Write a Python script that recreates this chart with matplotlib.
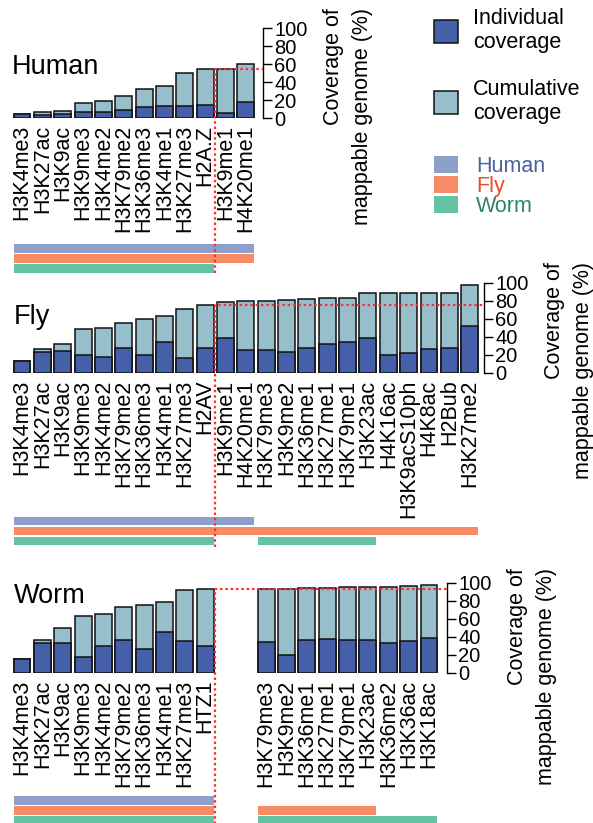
import matplotlib
matplotlib.use("Agg")
import matplotlib.pyplot as plt
from matplotlib.patches import Patch

plt.rcParams['font.family'] = ['Liberation Sans', 'DejaVu Sans']

# ── Coverage of mappable genome (%) per histone mark ──────────────────────
human_marks = ["H3K4me3", "H3K27ac", "H3K9ac", "H3K9me3", "H3K4me2", "H3K79me2",
               "H3K36me3", "H3K4me1", "H3K27me3", "H2A.Z", "H3K9me1", "H4K20me1"]
human_individual = [4.5, 3.7, 4.2, 7.0, 7.0, 8.5, 12.0, 13.0, 13.3, 14.4, 5.9, 18.1]
human_cumulative = [4.5, 6.3, 7.4, 16.5, 19.0, 24.0, 32.0, 36.0, 49.7, 54.5, 55.0, 59.6]

fly_marks = ["H3K4me3", "H3K27ac", "H3K9ac", "H3K9me3", "H3K4me2", "H3K79me2",
             "H3K36me3", "H3K4me1", "H3K27me3", "H2AV", "H3K9me1", "H4K20me1",
             "H3K79me3", "H3K9me2", "H3K36me1", "H3K27me1", "H3K79me1", "H3K23ac",
             "H4K16ac", "H3K9acS10ph", "H4K8ac", "H2Bub", "H3K27me2"]
fly_individual = [13.0, 23.0, 24.4, 19.5, 17.7, 27.4, 19.5, 34.6, 16.2, 27.4, 38.7, 25.6,
                  25.6, 22.6, 27.8, 32.0, 34.2, 38.3, 19.5, 21.8, 26.7, 27.4, 51.9]
fly_cumulative = [13.0, 26.0, 31.6, 49.0, 50.0, 55.6, 60.0, 62.8, 70.3, 75.4, 79.0, 80.0,
                  80.0, 81.0, 81.6, 82.7, 82.7, 88.3, 88.7, 88.7, 88.7, 89.0, 97.0]

worm_marks = ["H3K4me3", "H3K27ac", "H3K9ac", "H3K9me3", "H3K4me2", "H3K79me2",
              "H3K36me3", "H3K4me1", "H3K27me3", "HTZ1",
              "H3K79me3", "H3K9me2", "H3K36me1", "H3K27me1", "H3K79me1", "H3K23ac",
              "H3K36me2", "H3K36ac", "H3K18ac"]
worm_individual = [15.0, 32.8, 32.8, 17.2, 30.2, 36.6, 26.0, 45.5, 35.0, 29.5,
                   33.6, 19.4, 36.6, 38.0, 35.8, 35.8, 32.8, 34.7, 38.4]
worm_cumulative = [15.0, 36.0, 50.0, 63.4, 65.7, 73.5, 75.7, 78.7, 91.4, 92.8,
                   93.3, 93.3, 94.0, 94.0, 94.8, 95.1, 95.1, 96.3, 97.0]

species = ["Human", "Fly", "Worm"]
# the H2A.Z variant has a different name in each organism
h2a_variant = {"Human": "H2A.Z", "Fly": "H2AV", "Worm": "HTZ1"}

# ── Styling / layout (pixels on a 593x823 canvas) ─────────────────────────
W, H = 593, 823
SLOT = 20.35          # px between neighbouring bars
X0 = 22.0             # px centre of the first bar
BAR_W = 0.835         # bar width in slot units
PX_PER_PCT = 0.9
DARK, LIGHT, EDGE = "#4560A9", "#97BFCB", "#111111"
STRIP = {"Human": "#8DA0CB", "Fly": "#F78B66", "Worm": "#66C2A5"}
TEXT_COL = {"Human": "#4A63A0", "Fly": "#E84A2E", "Worm": "#2F8468"}
RED = "#FF2D2D"
WORM_RIGHT_START = 12   # worm has no H3K9me1 / H4K20me1, leave two empty slots

fig = plt.figure(figsize=(W / 100, H / 100), dpi=100)


def px2x(px):
    return (px - X0) / SLOT


def canon(mark):
    return "H2A.Z" if mark in h2a_variant.values() else mark


profiled = {"Human": {canon(m) for m in human_marks},
            "Fly": {canon(m) for m in fly_marks},
            "Worm": {canon(m) for m in worm_marks}}


def strip_runs(marks, slots, available):
    """Contiguous slot runs where the mark is profiled in a given species."""
    runs = []
    for m, s in zip(marks, slots):
        if canon(m) not in available:
            continue
        if runs and runs[-1][1] == s - 1:
            runs[-1][1] = s
        else:
            runs.append([s, s])
    return [(a - BAR_W / 2, b - a + BAR_W) for a, b in runs]


def draw_panel(name, marks, ind, cum, slots, zero_px, axis_px, strip_px, vline_px, title_px):
    ax = fig.add_axes([0, (H - zero_px) / H, 1, 100 * PX_PER_PCT / H])
    ax.set_xlim(px2x(0), px2x(W))
    ax.set_ylim(0, 100)
    ax.patch.set_visible(False)

    ax.bar(slots, cum, width=BAR_W, color=LIGHT, edgecolor=EDGE, linewidth=1.1, zorder=2)
    ax.bar(slots, ind, width=BAR_W, color=DARK, edgecolor=EDGE, linewidth=1.1, zorder=3)

    # marks profiled in each species, as coloured strips under the labels
    strip_h = 8.5 / PX_PER_PCT
    for i, sp in enumerate(species):
        top = -(strip_px - zero_px + i * 10) / PX_PER_PCT
        ax.broken_barh(strip_runs(marks, slots, profiled[sp]), (top - strip_h, strip_h),
                       facecolors=STRIP[sp], clip_on=False, zorder=1)

    # dotted guide from the H2A variant cumulative level
    vi = marks.index(h2a_variant[name])
    ref = cum[vi]
    xv = slots[vi] + 0.5
    y_bot = -(vline_px - zero_px) / PX_PER_PCT
    ax.plot([xv, xv, px2x(axis_px)], [y_bot, ref, ref], color=RED, lw=1.6,
            ls=(0, (1.1, 1.3)), clip_on=False, zorder=5)

    for s in ["top", "bottom", "left"]:
        ax.spines[s].set_visible(False)
    ax.spines["right"].set_position(("data", px2x(axis_px)))
    ax.spines["right"].set_bounds(0, 100)
    ax.spines["right"].set_linewidth(1.0)
    ax.yaxis.tick_right()
    ax.set_yticks(range(0, 101, 20))
    ax.tick_params(axis="y", length=6.5, width=1.0, labelsize=14.5, pad=1.5)

    ax.set_xticks(slots, marks, rotation=90)
    ax.tick_params(axis="x", length=0, pad=5, labelsize=15.5)

    ax.yaxis.set_label_position("right")
    ax.set_ylabel("Coverage of\nmappable genome (%)", fontsize=15.5, ha="right",
                  multialignment="right", linespacing=1.5)
    ax.yaxis.set_label_coords((axis_px + 60) / W, (zero_px - title_px[2]) / (100 * PX_PER_PCT))

    fig.text(title_px[0] / W, 1 - title_px[1] / H, name, fontsize=19.5, va="baseline")
    return ax


draw_panel("Human", human_marks, human_individual, human_cumulative,
           list(range(len(human_marks))), 118, 263.3, 244, 273, (12, 74, 8))
draw_panel("Fly", fly_marks, fly_individual, fly_cumulative,
           list(range(len(fly_marks))), 372.7, 484.3, 517, 547, (14, 324, 262))
worm_slots = list(range(10)) + list(range(WORM_RIGHT_START, WORM_RIGHT_START + len(worm_marks) - 10))
draw_panel("Worm", worm_marks, worm_individual, worm_cumulative,
           worm_slots, 672.7, 447.3, 796, 826, (14, 603, 568))

# ── Legends ───────────────────────────────────────────────────────────────
cov_handles = [Patch(facecolor=DARK, edgecolor=EDGE, linewidth=1.1),
               Patch(facecolor=LIGHT, edgecolor=EDGE, linewidth=1.1)]
fig.legend(cov_handles, ["Individual\ncoverage", "Cumulative\ncoverage"],
           loc="upper left", bbox_to_anchor=(434 / W, 1 - 8 / H), frameon=False,
           fontsize=15.5, handlelength=1.1, handleheight=1.25, handletextpad=0.7,
           labelspacing=1.2, borderpad=0, borderaxespad=0)

sp_handles = [Patch(facecolor=STRIP[s], edgecolor="none") for s in species]
fig.legend(sp_handles, species, loc="upper left", bbox_to_anchor=(434 / W, 1 - 156 / H),
           frameon=False, fontsize=15.5, handlelength=1.1, handleheight=0.8,
           handletextpad=0.85, labelspacing=-0.05, borderpad=0, borderaxespad=0,
           labelcolor=[TEXT_COL[s] for s in species])

fig.savefig("out.png", dpi=100)
